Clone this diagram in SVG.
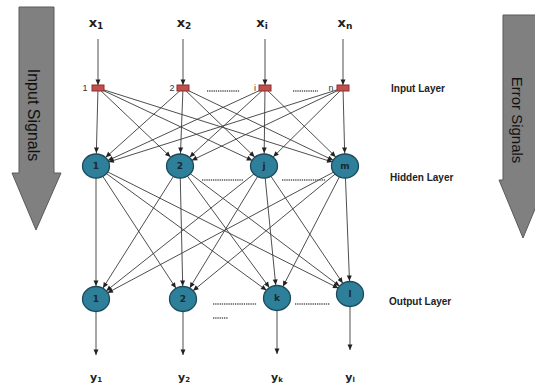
<svg xmlns="http://www.w3.org/2000/svg" width="535" height="386" viewBox="0 0 535 386">
<defs>
<style>
.big{fill:#808080;stroke:#5a5a5a;stroke-width:1}
.sig{font-family:"Liberation Sans",Arial,sans-serif;fill:#111}
.c{stroke:#3a3a3a;stroke-width:0.9;fill:none}
.cm{stroke:#3a3a3a;stroke-width:0.9;fill:none;marker-end:url(#ah)}
.ca{stroke:#3a3a3a;stroke-width:0.9;fill:none;marker-end:url(#ap)}
.inr{fill:#c0504d;stroke:#8b2f2d;stroke-width:1}
.nd{fill:#2e7f99;stroke:#1b4a5b;stroke-width:1.3}
.nt{font-family:"DejaVu Sans",Verdana,sans-serif;font-weight:bold;font-size:9px;fill:#1a2a33;text-anchor:middle;dominant-baseline:central}
.il{font-family:"Liberation Sans",Arial,sans-serif;font-size:9px;fill:#333;text-anchor:middle;dominant-baseline:central}
.lab{font-family:"DejaVu Sans",Verdana,sans-serif;font-weight:bold;fill:#222;text-anchor:middle}
.ll{font-family:"Liberation Sans",Arial,sans-serif;font-weight:bold;font-size:10px;fill:#222}
.dots{stroke:#555;stroke-width:1.3;stroke-dasharray:1.3 0.9;fill:none}
</style>
<marker id="ah" markerUnits="userSpaceOnUse" markerWidth="30" markerHeight="10" refX="18.5" refY="2.5" orient="auto" overflow="visible"><path d="M0,0 L5.5,2.5 L0,5 z" fill="#222"/></marker>
<marker id="ap" markerUnits="userSpaceOnUse" markerWidth="10" markerHeight="10" refX="5.5" refY="2.5" orient="auto" overflow="visible"><path d="M0,0 L5.5,2.5 L0,5 z" fill="#222"/></marker>
</defs>
<rect width="535" height="386" fill="#fff"/>

<g id="input-signals-arrow">
<path class="big" d="M19,7 H54 V173 H61 L36,230 L12,173 H19 Z"/>
<text class="sig" font-size="16" transform="translate(33,115) rotate(90)" text-anchor="middle" dominant-baseline="central">Input Signals</text>
</g>
<g id="error-signals-arrow">
<path class="big" d="M503,15 H543 V180 H547 L523,238 L499,180 H503 Z"/>
<text class="sig" font-size="15" transform="translate(517,120) rotate(90)" text-anchor="middle" dominant-baseline="central">Error Signals</text>
</g>

<g id="connectors">
<line class="ca" x1="98" y1="39" x2="98" y2="85"/>
<line class="ca" x1="183" y1="39" x2="183" y2="85"/>
<line class="ca" x1="265" y1="39" x2="265" y2="85"/>
<line class="ca" x1="343" y1="39" x2="343" y2="85"/>

<line class="cm" x1="98" y1="88" x2="96" y2="166"/>
<line class="cm" x1="98" y1="88" x2="180" y2="166"/>
<line class="cm" x1="98" y1="88" x2="264" y2="166"/>
<line class="cm" x1="98" y1="88" x2="345" y2="166"/>
<line class="cm" x1="183" y1="88" x2="96" y2="166"/>
<line class="cm" x1="183" y1="88" x2="180" y2="166"/>
<line class="cm" x1="183" y1="88" x2="264" y2="166"/>
<line class="cm" x1="183" y1="88" x2="345" y2="166"/>
<line class="cm" x1="265" y1="88" x2="96" y2="166"/>
<line class="cm" x1="265" y1="88" x2="180" y2="166"/>
<line class="cm" x1="265" y1="88" x2="264" y2="166"/>
<line class="cm" x1="265" y1="88" x2="345" y2="166"/>
<line class="cm" x1="343" y1="88" x2="96" y2="166"/>
<line class="cm" x1="343" y1="88" x2="180" y2="166"/>
<line class="cm" x1="343" y1="88" x2="264" y2="166"/>
<line class="cm" x1="343" y1="88" x2="345" y2="166"/>

<line class="cm" x1="96" y1="166" x2="96" y2="299"/>
<line class="cm" x1="96" y1="166" x2="183" y2="299"/>
<line class="cm" x1="96" y1="166" x2="277" y2="298"/>
<line class="cm" x1="96" y1="166" x2="350" y2="294"/>
<line class="cm" x1="180" y1="166" x2="96" y2="299"/>
<line class="cm" x1="180" y1="166" x2="183" y2="299"/>
<line class="cm" x1="180" y1="166" x2="277" y2="298"/>
<line class="cm" x1="180" y1="166" x2="350" y2="294"/>
<line class="cm" x1="264" y1="166" x2="96" y2="299"/>
<line class="cm" x1="264" y1="166" x2="183" y2="299"/>
<line class="cm" x1="264" y1="166" x2="277" y2="298"/>
<line class="cm" x1="264" y1="166" x2="350" y2="294"/>
<line class="cm" x1="345" y1="166" x2="96" y2="299"/>
<line class="cm" x1="345" y1="166" x2="183" y2="299"/>
<line class="cm" x1="345" y1="166" x2="277" y2="298"/>
<line class="cm" x1="345" y1="166" x2="350" y2="294"/>

<line class="ca" x1="96" y1="311" x2="96" y2="355"/>
<line class="ca" x1="183" y1="311" x2="183" y2="355"/>
<line class="ca" x1="277" y1="310" x2="277" y2="354"/>
<line class="ca" x1="350" y1="306" x2="350" y2="350"/>
</g>

<g id="x-labels">
<text class="lab" x="96" y="27" font-size="13">x<tspan font-size="9" dy="2">1</tspan></text>
<text class="lab" x="184" y="27" font-size="13">x<tspan font-size="9" dy="2">2</tspan></text>
<text class="lab" x="262" y="27" font-size="13">x<tspan font-size="9" dy="2">i</tspan></text>
<text class="lab" x="345" y="27" font-size="13">x<tspan font-size="9" dy="2">n</tspan></text>
</g>

<g id="input-1"><rect class="inr" x="92" y="85" width="12" height="6"/><text class="il" x="85" y="88">1</text></g>
<g id="input-2"><rect class="inr" x="177" y="85" width="12" height="6"/><text class="il" x="172" y="88">2</text></g>
<g id="input-i"><rect class="inr" x="259" y="85" width="12" height="6"/><text class="il" x="255" y="88">i</text></g>
<g id="input-n"><rect class="inr" x="337" y="85" width="12" height="6"/><text class="il" x="331" y="88">n</text></g>
<g id="input-dots"><line class="dots" x1="207" y1="91" x2="240" y2="91"/><line class="dots" x1="293" y1="91" x2="318" y2="91"/></g>

<g id="hidden-1"><ellipse class="nd" cx="96" cy="166" rx="13.5" ry="12"/><text class="nt" x="96" y="166">1</text></g>
<g id="hidden-2"><ellipse class="nd" cx="180" cy="166" rx="13.5" ry="12"/><text class="nt" x="180" y="166">2</text></g>
<g id="hidden-j"><ellipse class="nd" cx="264" cy="166" rx="13.5" ry="12"/><text class="nt" x="264" y="166">j</text></g>
<g id="hidden-m"><ellipse class="nd" cx="345" cy="166" rx="13.5" ry="12"/><text class="nt" x="345" y="166">m</text></g>
<g id="hidden-dots"><line class="dots" x1="202" y1="180" x2="243" y2="180"/><line class="dots" x1="282" y1="180" x2="326" y2="180"/></g>

<g id="output-1"><ellipse class="nd" cx="96" cy="299" rx="13.5" ry="12.5"/><text class="nt" x="96" y="299">1</text></g>
<g id="output-2"><ellipse class="nd" cx="183" cy="299" rx="13.5" ry="12.5"/><text class="nt" x="183" y="299">2</text></g>
<g id="output-k"><ellipse class="nd" cx="277" cy="298" rx="13.5" ry="12.5"/><text class="nt" x="277" y="298">k</text></g>
<g id="output-l"><ellipse class="nd" cx="350" cy="294" rx="13.5" ry="12.5"/><text class="nt" x="350" y="294">l</text></g>
<g id="output-dots"><line class="dots" x1="213" y1="304" x2="257" y2="304"/><line class="dots" x1="295" y1="304" x2="330" y2="304"/><line class="dots" x1="213" y1="318" x2="228" y2="318"/></g>

<g id="y-labels">
<text class="lab" x="96" y="381" font-size="11">y<tspan font-size="7" dy="1">1</tspan></text>
<text class="lab" x="184" y="381" font-size="11">y<tspan font-size="7" dy="1">2</tspan></text>
<text class="lab" x="277" y="381" font-size="11">y<tspan font-size="7" dy="1">k</tspan></text>
<text class="lab" x="350" y="381" font-size="11">y<tspan font-size="7" dy="1">l</tspan></text>
</g>

<g id="layer-labels">
<text class="ll" x="391" y="92">Input Layer</text>
<text class="ll" x="390" y="181">Hidden Layer</text>
<text class="ll" x="389" y="305">Output Layer</text>
</g>
</svg>
